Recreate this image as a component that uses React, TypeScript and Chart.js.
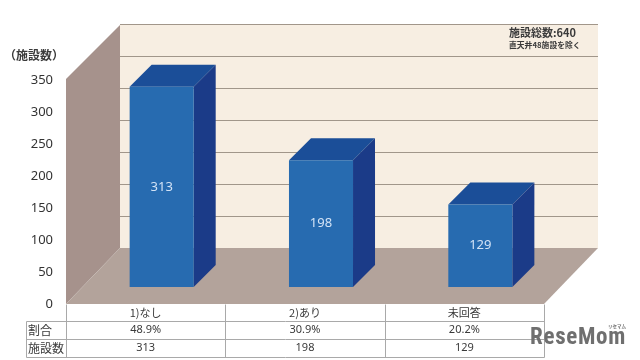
import React, { useEffect, useRef } from "react";
import { Chart, registerables } from "chart.js";

Chart.register(...registerables);

const categories = ["1)なし", "2)あり", "未回答"];
const facilityCounts = [313, 198, 129];
const shares = ["48.9%", "30.9%", "20.2%"];
const yTicks = [0, 50, 100, 150, 200, 250, 300, 350];
const rowHeaders = ["割合", "施設数"];
const yTitle = "（施設数）";
const noteMain = "施設総数:640";
const noteSub = "直天井48施設を除く";
const FONT = '"Noto Sans CJK JP", "Noto Sans", sans-serif';
const LATIN = '"Noto Sans", "Noto Sans CJK JP", sans-serif';

const DEPTH = 54;
const DEPTH_Y = 56;
const BAR_DEPTH = 22;
const FLOOR_SHIFT = 17;
const X_SHIFT = 16;

function poly(ctx: CanvasRenderingContext2D, pts: number[][], fill: string) {
  ctx.beginPath();
  pts.forEach((p, i) => (i ? ctx.lineTo(p[0], p[1]) : ctx.moveTo(p[0], p[1])));
  ctx.closePath();
  ctx.fillStyle = fill;
  ctx.fill();
}

const scene3d = {
  id: "scene3d",
  beforeDatasetsDraw(chart: any) {
    const { ctx, scales } = chart;
    const y = scales.y;
    const x = scales.x;
    const half = (x.getPixelForTick(1) - x.getPixelForTick(0)) / 2;
    const left = x.getPixelForTick(0) - half - X_SHIFT;
    const right = x.getPixelForTick(categories.length - 1) + half - X_SHIFT;
    const y0 = y.getPixelForValue(0);
    const yTop = y.getPixelForValue(350);
    ctx.save();
    poly(ctx, [[left + DEPTH, yTop - DEPTH_Y + 1], [right + DEPTH, yTop - DEPTH_Y + 1], [right + DEPTH, y0 - DEPTH_Y], [left + DEPTH, y0 - DEPTH_Y]], "#f7eee2");
    poly(ctx, [[left, yTop - 1], [left + DEPTH, yTop - DEPTH_Y + 1], [left + DEPTH, y0 - DEPTH_Y], [left, y0]], "#a6928c");
    poly(ctx, [[left, y0], [right, y0], [right + DEPTH, y0 - DEPTH_Y], [left + DEPTH, y0 - DEPTH_Y]], "#b3a39b");
    ctx.strokeStyle = "#a1968a";
    ctx.lineWidth = 1;
    yTicks.forEach((t) => {
      if (t === 0) return;
      const py = Math.round(y.getPixelForValue(t) - DEPTH_Y) + 0.5;
      ctx.beginPath();
      ctx.moveTo(left + DEPTH, py);
      ctx.lineTo(right + DEPTH, py);
      ctx.stroke();
    });
    chart.getDatasetMeta(0).data.forEach((bar: any) => {
      const r = bar.x + bar.width / 2;
      const l = bar.x - bar.width / 2;
      poly(ctx, [[l, bar.y], [l + BAR_DEPTH, bar.y - BAR_DEPTH], [r + BAR_DEPTH, bar.y - BAR_DEPTH], [r, bar.y]], "#1b4e98");
      poly(ctx, [[r, bar.y], [r + BAR_DEPTH, bar.y - BAR_DEPTH], [r + BAR_DEPTH, bar.base - BAR_DEPTH], [r, bar.base]], "#1b3b88");
    });
    ctx.restore();
  },
  afterDatasetsDraw(chart: any) {
    const { ctx, scales } = chart;
    const x = scales.x;
    const y = scales.y;
    const half = (x.getPixelForTick(1) - x.getPixelForTick(0)) / 2;
    const left = x.getPixelForTick(0) - half - X_SHIFT;
    const right = x.getPixelForTick(categories.length - 1) + half - X_SHIFT;
    const y0 = y.getPixelForValue(0);
    const rows = [y0, y0 + 17, y0 + 35, y0 + 53];
    ctx.save();
    ctx.textAlign = "center";
    ctx.textBaseline = "middle";

    ctx.font = `13px ${LATIN}`;
    ctx.fillStyle = "#d3e3f6";
    chart.getDatasetMeta(0).data.forEach((bar: any, i: number) => {
      ctx.fillText(String(facilityCounts[i]), bar.x, (bar.y + bar.base) / 2);
    });

    ctx.strokeStyle = "#a9a9a9";
    ctx.lineWidth = 1;
    const line = (a: number, b: number, c: number, d: number) => {
      ctx.beginPath();
      ctx.moveTo(Math.round(a) + 0.5, Math.round(b) + 0.5);
      ctx.lineTo(Math.round(c) + 0.5, Math.round(d) + 0.5);
      ctx.stroke();
    };
    const headLeft = 26;
    line(headLeft, rows[1], right, rows[1]);
    line(headLeft, rows[2], right, rows[2]);
    line(headLeft, rows[3], right, rows[3]);
    line(headLeft, rows[1], headLeft, rows[3]);
    line(left, rows[0], left, rows[3]);
    categories.forEach((_, i) => {
      const edge = x.getPixelForTick(i) + half - X_SHIFT;
      line(edge, rows[0], edge, rows[3]);
    });

    ctx.fillStyle = "#3a3a3a";
    ctx.font = `11px ${LATIN}`;
    categories.forEach((_, i) => {
      const cx = x.getPixelForTick(i) - X_SHIFT;
      ctx.fillText(shares[i], cx, (rows[1] + rows[2]) / 2);
      ctx.fillText(String(facilityCounts[i]), cx, (rows[2] + rows[3]) / 2);
    });
    ctx.textAlign = "left";
    ctx.font = `12px ${FONT}`;
    rowHeaders.forEach((h, i) => {
      ctx.fillText(h, headLeft + 2, (rows[i + 1] + rows[i + 2]) / 2);
    });

    ctx.textAlign = "center";
    ctx.font = `bold 12px ${FONT}`;
    ctx.fillText(yTitle, 34, 55);

    ctx.textAlign = "left";
    ctx.font = `bold 11px ${FONT}`;
    ctx.fillText(noteMain, 509, 33);
    ctx.font = `bold 7.8px ${FONT}`;
    ctx.fillText(noteSub, 509, 45);

    ctx.fillStyle = "#6f6f6f";
    ctx.font = 'bold 23px "Roboto Condensed", Roboto, sans-serif';
    ctx.textAlign = "left";
    (ctx as any).letterSpacing = "0.7px";
    ctx.fillText("ReseMom", 530, 338);
    (ctx as any).letterSpacing = "0px";
    ctx.font = `bold 4.5px ${FONT}`;
    ctx.fillText("リセマム", 608, 326);
    ctx.restore();
  },
};

export default function App() {
  const ref = useRef<HTMLCanvasElement>(null);
  useEffect(() => {
    const unit = 224 / 350;
    const shift = FLOOR_SHIFT / unit;
    const chart = new Chart(ref.current as HTMLCanvasElement, {
      type: "bar",
      data: {
        labels: categories,
        datasets: [
          {
            data: facilityCounts,
            yAxisID: "yBars",
            backgroundColor: "#276bb0",
            borderWidth: 0,
            barPercentage: 0.402,
            categoryPercentage: 1,
          },
        ],
      },
      options: {
        responsive: false,
        animation: false,
        layout: { padding: { left: 0, right: 80, top: 80, bottom: 39 } },
        plugins: { legend: { display: false }, tooltip: { enabled: false } },
        scales: {
          x: {
            grid: { display: false, drawTicks: false },
            border: { display: false },
            afterFit: (s: any) => { s.height = 17; },
            ticks: {
              labelOffset: -X_SHIFT,
              padding: 2,
              maxRotation: 0,
              color: "#3a3a3a",
              font: { size: 11, family: FONT },
            },
          },
          y: {
            min: 0,
            max: 350,
            afterFit: (s: any) => { s.width = 82; },
            grid: { display: false, drawTicks: false },
            border: { display: false },
            afterBuildTicks: (s: any) => { s.ticks = yTicks.map((value) => ({ value })); },
            ticks: {
              padding: 29,
              color: "#333333",
              font: { size: 13, family: LATIN },
            },
          },
          yBars: {
            display: false,
            min: -shift,
            max: 350 - shift,
          },
        },
      },
      plugins: [scene3d],
    } as any);
    return () => chart.destroy();
  }, []);
  return (
    <div style={{ position: "fixed", left: 0, top: 0, width: 640, height: 360, background: "#ffffff" }}>
      <canvas ref={ref} width={640} height={360} style={{ display: "block" }} />
    </div>
  );
}
